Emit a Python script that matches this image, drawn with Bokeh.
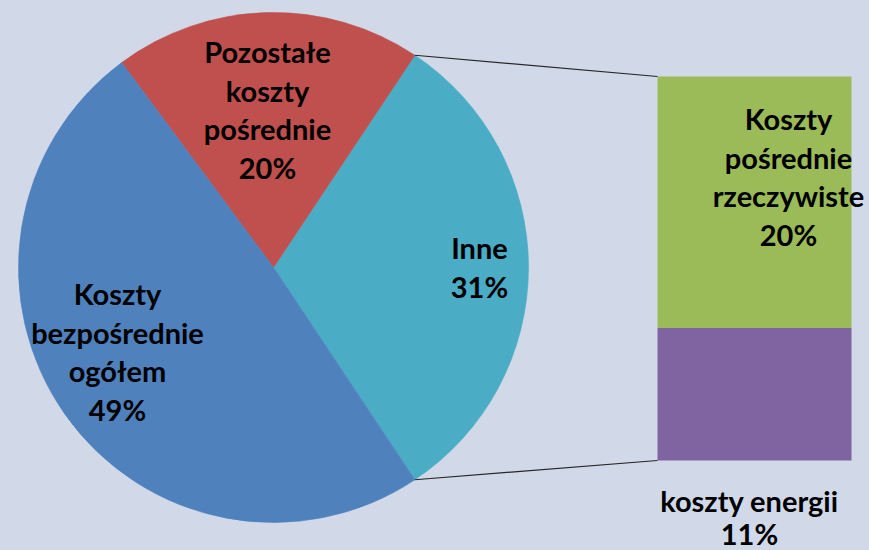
import numpy as np
from bokeh.plotting import figure
from bokeh.models import Range1d
from bokeh.core.properties import value
from bokeh.embed import file_html
from bokeh.resources import INLINE

# ---------------- data ----------------
pie_names = ["Inne", "Pozostałe koszty pośrednie", "Koszty bezpośrednie ogółem"]
pie_values = [31.3, 19.5, 49.2]
pie_pct = ["31%", "20%", "49%"]
pie_colors = ["#4BACC6", "#C0504D", "#4F81BD"]

bar_names = ["koszty energii", "Koszty pośrednie rzeczywiste"]
bar_values = [10.8, 20.5]
bar_pct = ["11%", "20%"]
bar_colors = ["#8064A2", "#9BBB59"]

# label line breaks (as in the chart)
pie_label_lines = [["Inne"], ["Pozostałe", "koszty", "pośrednie"], ["Koszty", "bezpośrednie", "ogółem"]]
bar_label_lines = [["koszty energii"], ["Koszty", "pośrednie", "rzeczywiste"]]

# ---------------- layout ----------------
W, H = 869, 550
BG = "#D1D9E8"
FONT = "Lato"
FSIZE = "29px"
LINE = 38.5
BASE_FIX = 12  # renderer baseline correction (px)

def fx(px):  # page pixel x -> figure x
    return px

def fy(py):  # page pixel y -> figure y (upwards)
    return H - py

p = figure(width=W, height=H, x_range=Range1d(0, W), y_range=Range1d(0, H),
           output_backend="svg", toolbar_location=None, min_border=0)
p.axis.visible = False
p.grid.visible = False
p.outline_line_color = None
p.background_fill_color = BG
p.border_fill_color = BG

# pie
cx, cy, R = fx(273), fy(267), 255
fr = np.array(pie_values) / sum(pie_values)
start0 = -np.pi * fr[0]
ends = start0 + 2 * np.pi * np.cumsum(fr)
starts = np.concatenate([[start0], ends[:-1]])
p.wedge(x=cx, y=cy, radius=R, start_angle=starts, end_angle=ends,
        fill_color=pie_colors, line_color=pie_colors, line_width=0.6)

# bar (own scale)
bar_bottom_px, bar_top_px = fy(460), fy(76)
total = sum(bar_values)
ppu = (bar_top_px - bar_bottom_px) / total
p.extra_y_ranges = {"bar": Range1d(-bar_bottom_px / ppu, (H - bar_bottom_px) / ppu)}
tops = np.cumsum(bar_values)
bots = tops - np.array(bar_values)
bl, br = fx(657), fx(851)
p.quad(left=bl, right=br, bottom=bots, top=tops, fill_color=bar_colors,
       line_color=None, y_range_name="bar")

# connector lines
a_top, a_bot = ends[0], starts[0]
p.segment(x0=[cx + R * np.cos(a_top), cx + R * np.cos(a_bot)],
          y0=[cy + R * np.sin(a_top), cy + R * np.sin(a_bot)],
          x1=[bl, bl],
          y1=[bar_bottom_px + total * ppu, bar_bottom_px],
          line_color="#262626", line_width=1.2)

# labels: (center x, first baseline) in page pixels
label_pos = {
    "pie": [(479, 259), (267, 63), (117, 305)],
    "bar": [(749, 512), (788, 130)],
}
xs, ys, ts = [], [], []
for lines, pct, (lx, ly) in zip(pie_label_lines, pie_pct, label_pos["pie"]):
    for i, t in enumerate(lines + [pct]):
        xs.append(fx(lx)); ys.append(fy(ly - BASE_FIX + i * LINE)); ts.append(t)
for lines, pct, (lx, ly) in zip(bar_label_lines, bar_pct, label_pos["bar"]):
    step = 33 if len(lines) == 1 else LINE
    for i, t in enumerate(lines + [pct]):
        xs.append(fx(lx)); ys.append(fy(ly - BASE_FIX + i * step)); ts.append(t)

p.text(x=xs, y=ys, text=ts, text_font=value(FONT), text_font_style="bold",
       text_font_size=FSIZE, text_color="#000000", text_align="center",
       text_baseline="alphabetic")

html = file_html(p, INLINE)
html = html.replace("<head>", "<head><style>html,body{background:%s;}</style>" % BG, 1)
open("out.html", "w").write(html)
